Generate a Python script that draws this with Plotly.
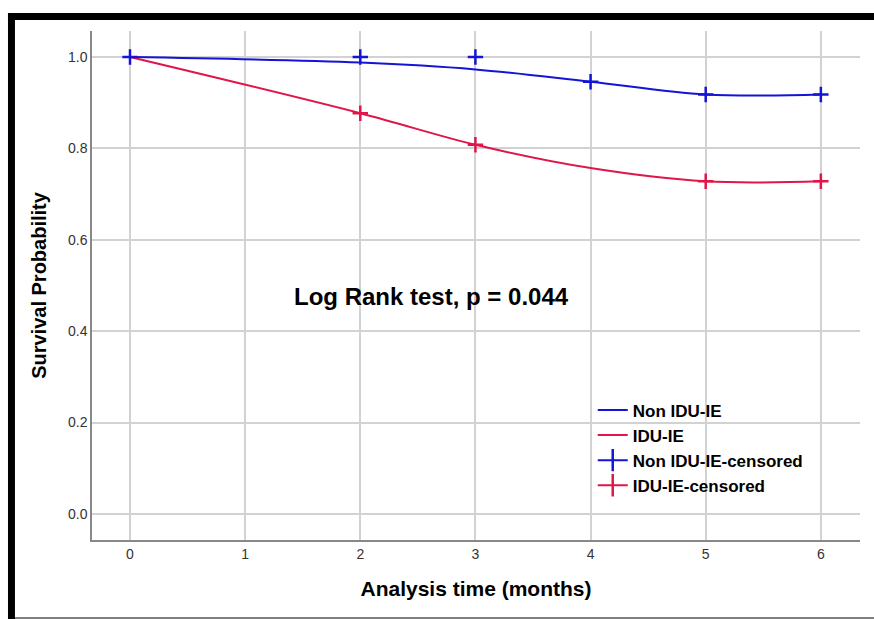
import plotly.graph_objects as go

# ---- data ----
time_points = [0, 2, 3, 4, 5, 6]
non_idu_surv = [1.0, 0.988, 0.973, 0.946, 0.918, 0.918]
idu_surv = [1.0, 0.877, 0.808, 0.757, 0.728, 0.728]

non_idu_cens_t = [0, 2, 3, 4, 5, 6]
non_idu_cens_s = [1.0, 1.0, 1.0, 0.946, 0.918, 0.918]
idu_cens_t = [2, 3, 5, 6]
idu_cens_s = [0.877, 0.808, 0.728, 0.728]

x_ticks = [0, 1, 2, 3, 4, 5, 6]
y_ticks = [0.0, 0.2, 0.4, 0.6, 0.8, 1.0]

BLUE = "#1414d6"
RED = "#e0164a"
FONT = "Liberation Sans, Arial, sans-serif"

fig = go.Figure()

fig.add_trace(go.Scatter(x=time_points, y=non_idu_surv, mode="lines",
                         line=dict(color=BLUE, width=2, shape="spline", smoothing=1.0),
                         name="Non IDU-IE"))
fig.add_trace(go.Scatter(x=time_points, y=idu_surv, mode="lines",
                         line=dict(color=RED, width=2, shape="spline", smoothing=1.0),
                         name="IDU-IE"))
fig.add_trace(go.Scatter(x=idu_cens_t, y=idu_cens_s, mode="markers",
                         marker=dict(symbol="cross-thin", size=11, line=dict(color=RED, width=2.5)),
                         showlegend=False, name="IDU-IE-censored"))
fig.add_trace(go.Scatter(x=non_idu_cens_t, y=non_idu_cens_s, mode="markers",
                         marker=dict(symbol="cross-thin", size=11, line=dict(color=BLUE, width=2.5)),
                         showlegend=False, name="Non IDU-IE-censored"))
# legend proxies for censored marks
fig.add_trace(go.Scatter(x=[None], y=[None], mode="lines+markers",
                         line=dict(color=BLUE, width=2),
                         marker=dict(symbol="line-ns", size=16, line=dict(color=BLUE, width=2.5)),
                         name="Non IDU-IE-censored"))
fig.add_trace(go.Scatter(x=[None], y=[None], mode="lines+markers",
                         line=dict(color=RED, width=2),
                         marker=dict(symbol="line-ns", size=16, line=dict(color=RED, width=2.5)),
                         name="IDU-IE-censored"))

fig.add_annotation(x=2.62, y=0.477, xref="x", yref="y", text="<b>Log Rank test, p = 0.044</b>",
                   showarrow=False, font=dict(family=FONT, size=24, color="black"))

# frame
fig.add_shape(type="rect", xref="paper", yref="paper", x0=-0.1094, x1=-0.1003, y0=-0.1552, y1=1.0354,
              fillcolor="black", line=dict(width=0), layer="above")
fig.add_shape(type="rect", xref="paper", yref="paper", x0=-0.1094, x1=1.02, y0=1.0216, y1=1.0354,
              fillcolor="black", line=dict(width=0), layer="above")
fig.add_shape(type="line", xref="paper", yref="paper", x0=-0.1003, x1=1.02, y0=-0.1532, y1=-0.1532,
              line=dict(color="#555555", width=1.5), layer="above")

fig.update_layout(
    width=874, height=619,
    margin=dict(l=92, r=14, t=31, b=79),
    paper_bgcolor="white", plot_bgcolor="white",
    font=dict(family=FONT, color="black"),
    showlegend=True,
    legend=dict(x=0.652, y=0.29, xanchor="left", yanchor="top",
                bgcolor="rgba(0,0,0,0)", font=dict(family=FONT, size=17, color="black", weight="bold"),
                tracegroupgap=0, itemwidth=30),
    xaxis=dict(range=[-0.33, 6.34], tickvals=x_ticks, ticktext=[str(v) for v in x_ticks],
               showgrid=True, gridcolor="#d2d2d2", gridwidth=1.5, zeroline=False,
               showline=True, linecolor="#888888", linewidth=1.5, ticks="",
               tickfont=dict(family=FONT, size=14, color="#333333"),
               title=dict(text="<b>Analysis time (months)</b>", font=dict(family=FONT, size=21, color="black"), standoff=21)),
    yaxis=dict(range=[-0.057, 1.057], tickvals=y_ticks, ticktext=[f"{v:.1f}" for v in y_ticks],
               showgrid=True, gridcolor="#d2d2d2", gridwidth=1.5, zeroline=False,
               showline=True, linecolor="#888888", linewidth=1.5, ticks="",
               tickfont=dict(family=FONT, size=14, color="#333333"),
               title=dict(text="<b>Survival Probability</b>", font=dict(family=FONT, size=20, color="black"), standoff=16)),
)

fig.write_html("out.html", config={"displayModeBar": False},
               post_script="document.body.style.margin='0px';")
